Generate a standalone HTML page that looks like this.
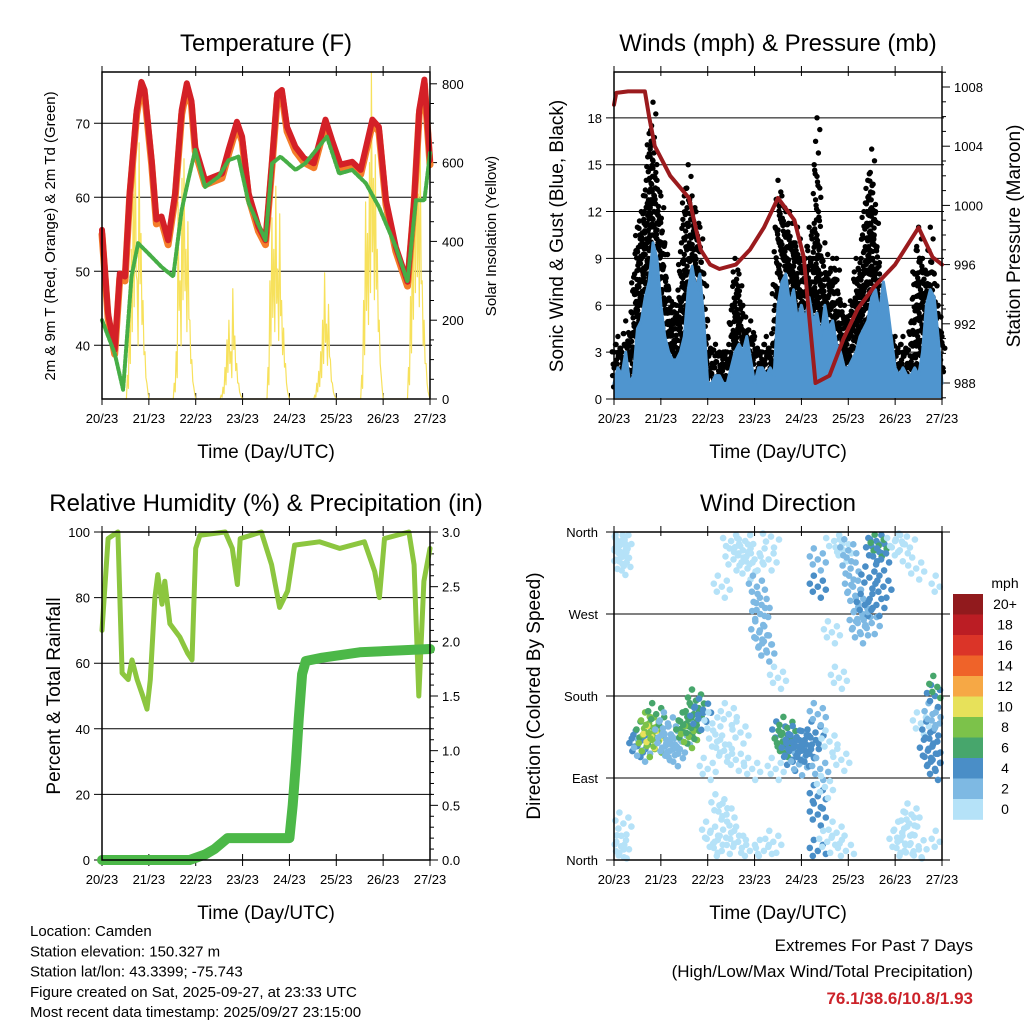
<!DOCTYPE html>
<html><head><meta charset="utf-8"><style>
body{margin:0;background:#fff;}
svg{display:block;font-family:"Liberation Sans",sans-serif;}
</style></head><body>
<svg id="s" width="1024" height="1024" viewBox="0 0 1024 1024" xmlns="http://www.w3.org/2000/svg">
<rect width="1024" height="1024" fill="#fff"/>
<g id="g"></g>
</svg>
<script>
// ---------- data ----------
const dayLabels = ["20/23","21/23","22/23","23/23","24/23","25/23","26/23","27/23"];
const tempDays = [0,0.13,0.27,0.38,0.49,0.59,0.74,0.84,0.91,1.06,1.16,1.27,1.41,1.56,1.7,1.81,1.91,1.99,2.2,2.56,2.7,2.88,2.99,3.13,3.34,3.49,3.63,3.74,3.84,3.95,4.13,4.31,4.52,4.77,4.91,5.09,5.34,5.52,5.77,5.91,6.06,6.27,6.52,6.66,6.77,6.88,7.0];
const tempF = [55.6,44.3,39.4,49.7,49.3,60.5,71.8,75.6,74.5,65,57,57.4,54.2,60.5,71.8,75.4,73,66.8,62.3,63.2,66.4,70.2,68.2,60.5,56,54.2,65,74,74.5,69.5,66.8,65.3,64.6,70.5,67.7,64.4,64.8,63.7,70.5,69.5,59.6,53.3,48.6,59.6,71.8,75.9,65];
const dewDays = [0,0.27,0.45,0.63,0.77,0.99,1.27,1.52,1.7,1.84,1.99,2.2,2.49,2.7,2.91,3.13,3.49,3.63,3.81,4.13,4.34,4.8,5.06,5.34,5.63,5.91,6.27,6.52,6.7,6.88,7.0];
const dewF = [43.4,38.9,34,49.3,53.8,52.4,50.6,49.3,58.3,62.3,66.4,61.4,62.8,65,65.5,59.2,54.2,64.6,65.5,63.7,64.6,68.2,63.2,63.7,61.9,58.7,53.3,48.6,59.6,59.6,66];
const solarByDay = [
 [0,60,200,380,520,700,300,650,420,250,120,40,0],
 [0,40,120,500,300,560,610,380,450,200,100,30,0],
 [0,10,30,80,150,200,120,280,160,90,40,10,0],
 [0,80,300,460,380,540,330,470,250,180,90,20,0],
 [0,10,40,70,120,200,320,190,240,100,40,10,0],
 [0,60,250,500,420,600,830,560,620,380,200,60,0],
 [0,80,260,450,600,690,520,650,300,200,90,20,0]];
// wind every 2 hours (index/12 = day)
const windMph = [1,2,1.5,3,1,1.5,4.5,5,6.5,7.5,10,9,6,4,3,2.5,2.5,3,4,7,8.5,7,8,5,1,1,1.5,1.5,1,1,2,3,3.5,3,4,2.5,1,2,2,1.5,2,1.5,6,7.5,8,6,7,5,6,5,6.5,5,5.5,4,6,4.5,5,3.5,3,2,2,2.5,3,4,4.5,5,6.5,7,5.5,7.5,6,4,2,1.5,2,1.5,1.5,2,1.5,3,6,7,6.5,4,1];
const gustMph = [3,4,3,5,3,7,11,12,13,17,19,14,13,10,7,6,6,8,13,15,13,12,11,8,4,3,3.5,3,3,3,4,9,8,6,4,5,4,3,3,4,3,5,14,13,12,12,10,11,9,9,11,9,18,8,10,8,9,9,6,6,5,6,9,8,12,14,16,12,8,5,4,4,4,3,4,3,3.5,8,11,9,8,11,8,6,4];
const presDays = [0,0.05,0.3,0.66,0.75,0.87,1.2,1.6,1.85,2.05,2.25,2.6,2.9,3.2,3.5,3.85,4.05,4.15,4.3,4.6,4.9,5.2,5.55,6.0,6.5,6.8,7.0];
const presMb = [1006.8,1007.6,1007.7,1007.7,1006,1004,1002,1000.5,997,996,995.7,996,997,998.5,1000.5,999,996.5,993,988,988.5,991,993,994.5,996,998.5,996.5,996];
const rhDays = [0,0.13,0.34,0.43,0.56,0.64,0.75,0.87,0.96,1.03,1.13,1.19,1.28,1.34,1.45,1.66,1.83,1.92,2.0,2.09,2.63,2.78,2.89,2.95,3.4,3.62,3.79,3.96,4.11,4.64,5.07,5.6,5.82,5.92,6.03,6.55,6.66,6.76,6.87,7.0];
const rhPct = [70,98,100,57,55,61,55,50,46,55,80,87,78,85,72,68,63,61,95,99,100,95,84,98,100,90,77,82,96,97,95,97,88,80,98,100,90,50,85,95];
const rainDays = [0,1.87,2.2,2.4,2.68,4.0,4.07,4.14,4.2,4.27,4.35,4.7,5.5,7.0];
const rainIn = [0,0,0.05,0.1,0.2,0.2,0.5,0.9,1.3,1.7,1.82,1.85,1.9,1.93];
const dirDays = [0.02,0.05,0.08,0.1,0.12,0.15,0.18,0.2,0.05,0.1,0.15,0.2,
 0.5,0.55,0.6,0.65,0.7,0.75,0.8,0.85,0.9,0.95,
 1.05,1.1,1.15,1.2,1.25,1.3,
 1.45,1.5,1.55,1.6,1.65,1.7,1.75,1.8,1.9,
 2.0,2.05,2.1,2.15,2.2,2.25,2.3,2.35,2.4,2.45,2.5,2.55,2.6,2.65,2.7,2.75,2.8,2.85,2.9,2.95,2.3,2.5,
 3.0,3.05,3.1,3.12,3.15,3.2,3.25,3.3,3.35,3.4,3.45,3.5,3.2,
 3.55,3.6,3.65,3.7,3.75,3.8,3.85,3.9,3.95,4.0,4.05,4.1,4.2,4.3,4.35,4.4,
 4.35,4.35,4.35,4.35,4.35,
 4.5,4.55,4.6,4.65,4.7,4.75,4.8,4.85,4.9,4.95,
 5.0,5.05,5.1,5.15,5.2,5.25,5.3,5.35,5.45,5.55,5.6,5.65,5.7,5.75,5.5,5.6,
 6.0,6.05,6.1,6.15,6.2,6.25,6.3,6.35,6.4,6.45,6.5,6.55,
 6.7,6.75,6.8,6.85,6.9,6.95,6.8,6.9,6.85,6.95,6.95];
const dirDeg = [355,340,350,330,345,335,325,350,20,5,15,40,
 125,130,120,140,125,150,135,145,160,130,
 140,125,150,120,135,115,
 130,140,150,135,145,160,175,155,165,
 100,30,150,20,130,60,10,120,50,160,30,330,110,20,140,340,350,320,10,100,300,350,
 330,300,250,270,280,240,230,330,355,20,100,200,10,
 140,130,125,145,120,110,125,135,105,120,130,115,125,140,160,100,
 70,50,330,10,300,
 80,20,130,250,350,30,200,110,340,10,
 340,320,300,290,260,250,270,280,310,340,350,345,330,300,260,280,
 350,20,340,30,10,355,40,50,5,320,15,150,
 120,140,160,180,130,150,110,190,100,300,20];
const dirSpd = [0,0,0,0,0,0,1,0,0,0,0,1,
 4,4,3,6,8,9,10,9,7,8,
 2,3,2,3,2,2,
 3,6,7,8,6,7,6,4,5,
 1,0,0,0,1,0,0,0,0,0,0,0,0,0,0,0,1,1,0,0,0,0,
 1,2,2,3,2,3,2,0,1,0,0,0,1,
 5,6,7,6,4,4,4,4,3,4,5,4,4,5,3,3,
 4,4,3,4,4,
 0,0,0,0,0,0,0,1,1,0,
 2,2,3,2,2,2,3,4,4,4,5,6,4,4,3,4,
 0,0,0,0,0,1,0,0,0,0,0,0,
 4,4,3,4,5,3,4,6,4,1,1];
const speedLabels = ["20+","18","16","14","12","10","8","6","4","2","0"];
const speedColors = ["#911a1d","#bb1d24","#db3428","#ef6329","#f6a845","#e7e15a","#7cc24a","#47a66c","#4a8ec7","#7eb9e3","#b5e2f8"];

// ---------- helpers ----------
const NS="http://www.w3.org/2000/svg";
const G=document.getElementById('g');
function el(tag,attrs,parent,text){const e=document.createElementNS(NS,tag);for(const k in attrs)e.setAttribute(k,attrs[k]);if(text!==undefined)e.textContent=text;(parent||G).appendChild(e);return e;}
function txt(x,y,s,size,anchor,name,extra){const t=el('text',Object.assign({x:x,y:y,'font-size':size,'text-anchor':anchor||'middle',fill:'#000'},extra||{}),G,s);


return t;}
function line(x1,y1,x2,y2,w,c,name){const l=el('line',{x1:x1,y1:y1,x2:x2,y2:y2,stroke:c||'#000','stroke-width':w||1});


return l;}
function poly(pts,attrs,name){const p=el('polyline',Object.assign({points:pts.map(p=>p[0].toFixed(1)+','+p[1].toFixed(1)).join(' '),fill:'none','stroke-linejoin':'round','stroke-linecap':'round'},attrs));


return p;}

function panel(P,title,name){
  txt((P.x0+P.x1)/2,P.y0-21,title,24,'middle',name+'-title');
  for(let i=0;i<dayLabels.length;i++){const x=P.x0+i*(P.x1-P.x0)/7;
    line(x,P.y1-6,x,P.y1+6,1,'#000','x-tick');line(x,P.y0-6,x,P.y0+4,1,'#000','x-tick-top');
    txt(x,P.y1+24,dayLabels[i],13,'middle','x-tick-label');}
  txt((P.x0+P.x1)/2,P.y1+59,'Time (Day/UTC)',19,'middle',name+'-x-axis-title');
}
function frame(P,name){const r=el('rect',{x:P.x0,y:P.y0,width:P.x1-P.x0,height:P.y1-P.y0,fill:'none',stroke:'#000','stroke-width':1.5});

}

// ---------- Panel 1: Temperature ----------
const P1={x0:102,x1:430,y0:72,y1:399};
const dx1=d=>P1.x0+d*(P1.x1-P1.x0)/7;
const yT=F=>123.3+(70-F)*7.4;
const yS=v=>P1.y1-v*0.394;
panel(P1,'Temperature (F)','temperature');
[40,50,60,70].forEach(v=>{line(P1.x0-8,yT(v),P1.x1+2,yT(v),1,'#000','temp-gridline');txt(P1.x0-12,yT(v)+5,String(v),13,'end','temp-tick-label');});
for(let v=0;v<=800;v+=50){const y=yS(v);line(P1.x1,y,P1.x1+(v%200?4:7),y,1,'#000','solar-tick');if(v%200===0)txt(P1.x1+12,y+5,String(v),13,'start','solar-tick-label');}
const sp=[];solarByDay.forEach((arr,d)=>arr.forEach((v,i)=>{const t=d+0.5+i/24;sp.push([dx1(t),yS(v)]);if(i<arr.length-1){const t2=t+1/48;sp.push([dx1(t2),yS(Math.max(0,v*0.45))]);}}));
poly(sp,{stroke:'#f7e15c','stroke-width':1.2},'solar-insolation-line');
poly(tempDays.map((d,i)=>[dx1(d),yT(tempF[i]-0.6)]),{stroke:'#f47d2a','stroke-width':7},'temp-9m-line');
poly(tempDays.map((d,i)=>[dx1(d),yT(tempF[i])]),{stroke:'#d42027','stroke-width':6},'temp-2m-line');
poly(dewDays.map((d,i)=>[dx1(d),yT(dewF[i])]),{stroke:'#46ae46','stroke-width':4,'stroke-dasharray':'3 2'},'dewpoint-line');
frame(P1,'temperature');
txt(0,0,'2m & 9m T (Red, Orange) & 2m Td (Green)',15,'middle','temp-y-axis-title',{transform:'translate(55,236) rotate(-90)'});
txt(0,0,'Solar Insolation (Yellow)',15,'middle','solar-y-axis-title',{transform:'translate(496,236) rotate(-90)'});

// ---------- Panel 2: Winds ----------
const P2={x0:614,x1:942,y0:72,y1:399};
const dx2=d=>P2.x0+d*(P2.x1-P2.x0)/7;
const yW=v=>P2.y1-v*15.62;
const yP=p=>383-(p-988)*14.8;
panel(P2,'Winds (mph) & Pressure (mb)','winds');
[0,3,6,9,12,15,18].forEach(v=>{if(v>0)line(P2.x0-8,yW(v),P2.x1+2,yW(v),1,'#000','wind-gridline');else line(P2.x0-8,yW(v),P2.x0,yW(v),1,'#000','wind-tick');txt(P2.x0-12,yW(v)+5,String(v),13,'end','wind-tick-label');});
for(let p=987;p<=1009;p++){const y=yP(p);if(y<P2.y0||y>P2.y1)continue;line(P2.x1,y,P2.x1+(p%4?4:8),y,1,'#000','pressure-tick');if(p%4===0)txt(P2.x1+12,y+5,String(p),13,'start','pressure-tick-label');}
const wpts=windMph.map((v,i)=>[dx2(i/12),yW(v)]);
// gust dots
const gg=el('g',{fill:'#000'});


for(let i=0;i<gustMph.length;i++){
  for(let h=0;h<4;h++){
    if(h>0&&i===gustMph.length-1)continue;
    const f=h/4;
    const g=h?(gustMph[i]*(1-f)+gustMph[i+1]*f)*(h===2?0.85:0.93):gustMph[i];
    const w=h?windMph[i]*(1-f)+windMph[i+1]*f:windMph[i];
    const x=dx2((i+f)/12);
    let k=0;
    for(let v=g;v>=w-0.5;v-=0.75){k++;el('circle',{cx:(x+((k*7+h*3)%5-2)*1.4).toFixed(1),cy:yW(v).toFixed(1),r:2.7},gg);}
  }
}
const area=el('polygon',{points:[[dx2(0),P2.y1-1]].concat(wpts,[[dx2(7),P2.y1-1]]).map(p=>p[0].toFixed(1)+','+p[1].toFixed(1)).join(' '),fill:'#4f95cf'});


poly(wpts,{stroke:'#4f95cf','stroke-width':3},'sonic-wind-line');
poly(presDays.map((d,i)=>[dx2(d),yP(presMb[i])]),{stroke:'#9b1b1e','stroke-width':4},'pressure-line');
frame(P2,'winds');
txt(0,0,'Sonic Wind & Gust (Blue, Black)',19,'middle','wind-y-axis-title',{transform:'translate(563,236) rotate(-90)'});
txt(0,0,'Station Pressure (Maroon)',19,'middle','pressure-y-axis-title',{transform:'translate(1020,236) rotate(-90)'});

// ---------- Panel 3: RH & Precip ----------
const P3={x0:102,x1:430,y0:532,y1:860};
const dx3=d=>P3.x0+d*(P3.x1-P3.x0)/7;
const yH=v=>P3.y1-v*3.28;
const yR=p=>P3.y1-p*109.33;
panel(P3,'Relative Humidity (%) & Precipitation (in)','humidity');
[0,20,40,60,80,100].forEach(v=>{if(v>0&&v<100)line(P3.x0-8,yH(v),P3.x1+2,yH(v),1,'#000','rh-gridline');else line(P3.x0-8,yH(v),P3.x0,yH(v),1,'#000','rh-tick');txt(P3.x0-12,yH(v)+5,String(v),13,'end','rh-tick-label');});
for(let k=0;k<=30;k++){const p=k/10,y=yR(p);line(P3.x1,y,P3.x1+(k%5?4:8),y,1,'#000','precip-tick');if(k%5===0)txt(P3.x1+12,y+5,p.toFixed(1),13,'start','precip-tick-label');}
poly(rhDays.map((d,i)=>[dx3(d),yH(rhPct[i])]),{stroke:'#8cc63f','stroke-width':5},'rh-line');
poly(rainDays.map((d,i)=>[dx3(d),yR(rainIn[i])]),{stroke:'#4cb848','stroke-width':10},'precip-line');
frame(P3,'humidity');
txt(0,0,'Percent & Total Rainfall',19,'middle','rh-y-axis-title',{transform:'translate(60,696) rotate(-90)'});

// ---------- Panel 4: Wind direction ----------
const P4={x0:614,x1:942,y0:532,y1:860};
const dx4=d=>P4.x0+d*(P4.x1-P4.x0)/7;
const yD=d=>P4.y1-d*0.911;
panel(P4,'Wind Direction','wind-direction');
[['North',0],['East',90],['South',180],['West',270],['North',360]].forEach(a=>{const y=yD(a[1]);line(P4.x0-8,y,P4.x1+8,y,1,'#000','direction-gridline');txt(P4.x0-16,y+5,a[0],13,'end','direction-tick-label');});
const colorFor=s=>speedColors[10-Math.min(10,Math.floor(s/2))];
const offs=[[0,0],[5,-6],[-5,5],[3,11],[-4,-11],[8,3],[-8,-3]];
const dg=el('g',{});


dirDays.forEach((d,i)=>{offs.forEach(o=>{const y=yD(dirDeg[i])+o[1];if(y<P4.y0||y>P4.y1)return;const x=dx4(d)+o[0];if(x<P4.x0||x>P4.x1)return;el('circle',{cx:x.toFixed(1),cy:y.toFixed(1),r:3.3,fill:colorFor(dirSpd[i])},dg);});});
frame(P4,'wind-direction');
txt(0,0,'Direction (Colored By Speed)',19,'middle','direction-y-axis-title',{transform:'translate(540,696) rotate(-90)'});
txt(1005,588,'mph',14,'middle','colorbar-title');
speedLabels.forEach((s,i)=>{const y=594+i*20.5;const r=el('rect',{x:953,y:y,width:30,height:20.8,fill:speedColors[i]});


txt(1005,y+15,s,14,'middle','colorbar-label');});

// ---------- footer ----------
['Location: Camden','Station elevation: 150.327 m','Station lat/lon: 43.3399; -75.743','Figure created on Sat, 2025-09-27, at 23:33 UTC','Most recent data timestamp: 2025/09/27 23:15:00'].forEach((s,i)=>txt(30,936+i*20.3,s,15,'start','station-info-line'));
txt(973,951,'Extremes For Past 7 Days',17,'end','extremes-heading');
txt(973,977,'(High/Low/Max Wind/Total Precipitation)',17,'end','extremes-subheading');
txt(973,1004,'76.1/38.6/10.8/1.93',17,'end','extremes-values',{fill:'#cc2229','font-weight':'bold'});
</script>
</body></html>
